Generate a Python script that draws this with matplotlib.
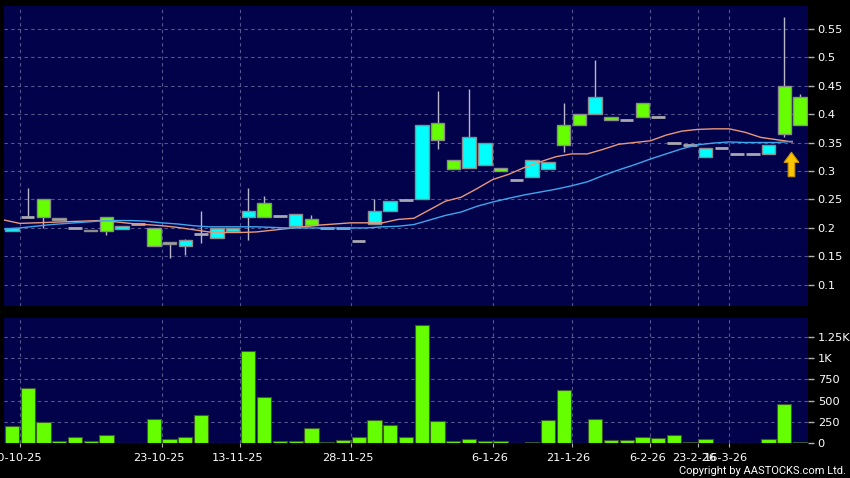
import numpy as np
import matplotlib
matplotlib.use('Agg')
import matplotlib.pyplot as plt
from matplotlib.transforms import ScaledTranslation

# daily OHLC
opens = [0.194, 0.220, 0.250, 0.218, 0.200, 0.197, 0.220, 0.199, 0.207, 0.200,
         0.171, 0.169, 0.190, 0.182, 0.194, 0.220, 0.243, 0.221, 0.204, 0.215,
         0.200, 0.200, 0.177, 0.207, 0.230, 0.249, 0.250, 0.384, 0.319, 0.305,
         0.310, 0.305, 0.285, 0.289, 0.304, 0.380, 0.400, 0.400, 0.395, 0.390,
         0.419, 0.395, 0.350, 0.345, 0.324, 0.340, 0.330, 0.330, 0.330, 0.450,
         0.430]
highs = [0.200, 0.270, 0.250, 0.218, 0.200, 0.197, 0.220, 0.204, 0.207, 0.200,
         0.175, 0.180, 0.230, 0.200, 0.200, 0.270, 0.256, 0.221, 0.224, 0.223,
         0.200, 0.200, 0.177, 0.250, 0.248, 0.249, 0.380, 0.441, 0.319, 0.444,
         0.349, 0.305, 0.285, 0.319, 0.315, 0.419, 0.400, 0.495, 0.395, 0.390,
         0.419, 0.395, 0.350, 0.345, 0.340, 0.340, 0.330, 0.330, 0.345, 0.570,
         0.435]
lows = [0.194, 0.220, 0.200, 0.214, 0.198, 0.195, 0.188, 0.199, 0.207, 0.168,
        0.147, 0.152, 0.174, 0.182, 0.194, 0.179, 0.220, 0.221, 0.204, 0.206,
        0.200, 0.200, 0.177, 0.207, 0.230, 0.249, 0.250, 0.339, 0.304, 0.305,
        0.310, 0.300, 0.285, 0.289, 0.304, 0.334, 0.380, 0.400, 0.389, 0.390,
        0.395, 0.395, 0.350, 0.345, 0.324, 0.340, 0.330, 0.330, 0.330, 0.360,
        0.380]
closes = [0.200, 0.220, 0.220, 0.214, 0.200, 0.195, 0.195, 0.204, 0.207, 0.169,
          0.175, 0.178, 0.190, 0.200, 0.200, 0.229, 0.220, 0.221, 0.224, 0.206,
          0.200, 0.200, 0.177, 0.229, 0.248, 0.249, 0.380, 0.354, 0.304, 0.359,
          0.349, 0.300, 0.285, 0.319, 0.315, 0.345, 0.380, 0.430, 0.389, 0.390,
          0.395, 0.395, 0.350, 0.345, 0.340, 0.340, 0.330, 0.330, 0.345, 0.365,
          0.380]
volumes = [207, 645, 250, 27, 78, 27, 94, 2, 2, 289,
           51, 78, 328, 5, 8, 1082, 539, 27, 27, 180,
           12, 43, 74, 277, 215, 70, 1387, 262, 31, 51,
           23, 27, 2, 12, 273, 629, 2, 289, 35, 35,
           74, 59, 94, 12, 47, 4, 4, 4, 47, 461,
           12]
ma_short = [0.214, 0.208, 0.209, 0.210, 0.211, 0.212, 0.213, 0.211, 0.208, 0.206,
            0.204, 0.201, 0.197, 0.193, 0.192, 0.192, 0.193, 0.196, 0.199, 0.202,
            0.205, 0.207, 0.209, 0.209, 0.209, 0.215, 0.217, 0.232, 0.247, 0.254,
            0.269, 0.285, 0.294, 0.306, 0.316, 0.325, 0.330, 0.330, 0.338, 0.347,
            0.350, 0.353, 0.363, 0.370, 0.373, 0.374, 0.374, 0.368, 0.359, 0.355,
            0.351]
ma_long = [0.198, 0.200, 0.203, 0.206, 0.208, 0.210, 0.212, 0.213, 0.213, 0.212,
           0.209, 0.207, 0.204, 0.202, 0.202, 0.202, 0.202, 0.201, 0.200, 0.200,
           0.200, 0.200, 0.200, 0.200, 0.202, 0.203, 0.206, 0.214, 0.222, 0.228,
           0.238, 0.2455, 0.252, 0.258, 0.263, 0.268, 0.274, 0.281, 0.292, 0.302,
           0.311, 0.321, 0.330, 0.339, 0.346, 0.349, 0.351, 0.350, 0.350, 0.350,
           0.352]

date_pos = [0.5, 9.5, 14.5, 21.5, 30.5, 35.5, 40.5, 43.5, 45.5]
date_labels = ['10-10-25', '23-10-25', '13-11-25', '28-11-25', '6-1-26',
               '21-1-26', '6-2-26', '23-2-26', '16-3-26']
price_ticks = [0.1, 0.15, 0.2, 0.25, 0.3, 0.35, 0.4, 0.45, 0.5, 0.55]
vol_ticks = [0, 250, 500, 750, 1000, 1250]
vol_labels = ['0', '250', '500', '750', '1K', '1.25K']
arrow_at = 49.45

BG = '#02024a'
GRID = '#56568e'
UP = '#00ffff'
DOWN = '#66ff00'

o = np.array(opens)
c = np.array(closes)
x = np.arange(len(o))

fig = plt.figure(figsize=(8.5, 4.78), dpi=100, facecolor='black')
ax = fig.add_axes([4/850, 1-306/478, 804/850, 300.5/478], facecolor=BG)
axv = fig.add_axes([4/850, 1-443.3/478, 804/850, 125/478], facecolor=BG)

# candles
ax.vlines(x, lows, highs, color='#b8b8c8', lw=1, zorder=2)
body = np.abs(c - o)
is_doji = body < 1e-9
cols = np.where(c > o, UP, DOWN)
ax.bar(x[~is_doji], body[~is_doji], bottom=np.minimum(o, c)[~is_doji], width=0.86,
       color=cols[~is_doji], edgecolor='#8c8c8c', lw=1, zorder=3)
ax.hlines(c[is_doji], x[is_doji] - 0.43, x[is_doji] + 0.43, color='#a8a8b0', lw=2, zorder=3)

# moving averages
ax.plot(x - 0.5, ma_short, color='#e8987a', lw=1, zorder=4)
ax.plot(x - 0.5, ma_long, color='#3ea6ee', lw=1, zorder=4)

ax.arrow(arrow_at, 0.290, 0, 0.043, width=0.42, head_width=0.95, head_length=0.018,
         length_includes_head=True, fc='#f8c400', ec='#c89000', lw=0.8, zorder=5)

# volume
axv.bar(x, volumes, width=0.9, color=DOWN, edgecolor='#3a5a2a', lw=0.8, zorder=3)

for a in (ax, axv):
    a.set_xlim(-0.5, 50.5)
    a.set_xticks(date_pos)
    a.grid(True, color=GRID, ls=(0, (3, 3)), lw=0.8)
    a.set_axisbelow(True)
    for s in a.spines.values():
        s.set_visible(False)
    a.yaxis.tick_right()
    a.tick_params(axis='y', direction='out', length=4, width=1, color='#b0b0b0',
                  labelcolor='white', labelsize=8.2, pad=3)

ax.set_ylim(0.063, 0.5905)
ax.set_yticks(price_ticks)
ax.set_yticklabels(['%g' % t for t in price_ticks])
ax.tick_params(axis='x', length=0, labelbottom=False)

axv.set_ylim(0, 1465)
axv.set_yticks(vol_ticks)
axv.set_yticklabels(vol_labels)
axv.set_xticklabels(date_labels)
axv.tick_params(axis='x', direction='out', length=3, color='#b0b0b0',
                labelcolor='white', labelsize=8.2, pad=4)
shift = ScaledTranslation(-3/100, 0, fig.dpi_scale_trans)
for lbl in axv.get_xticklabels():
    lbl.set_transform(lbl.get_transform() + shift)

fig.text(846/850, 1-471/478, 'Copyright by AASTOCKS.com Ltd.', ha='right', va='center',
         color='white', fontsize=8, family='Roboto')

fig.savefig('out.png', dpi=100, facecolor='black')
